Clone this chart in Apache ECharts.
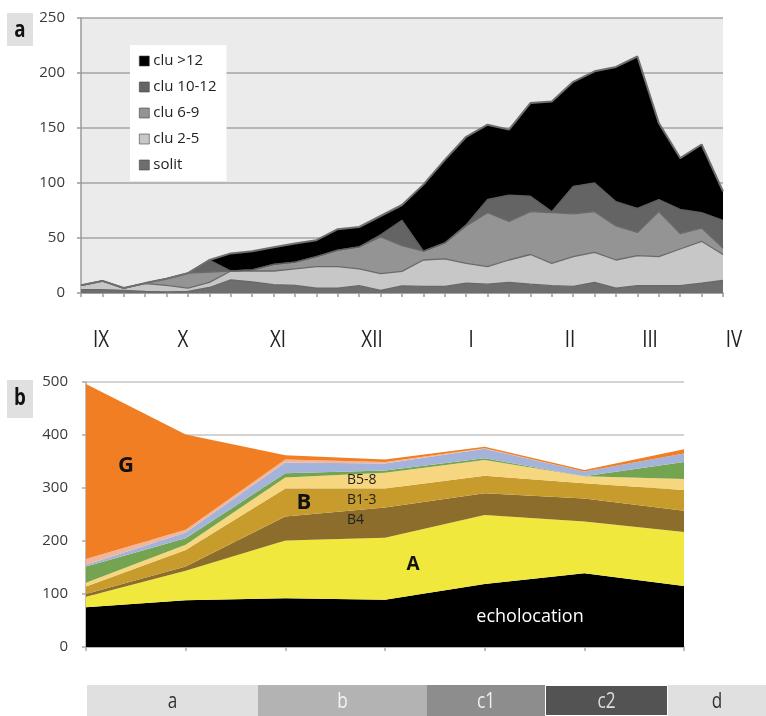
<!DOCTYPE html>
<html>
<head>
<meta charset="utf-8">
<script src="https://cdn.jsdelivr.net/npm/echarts@6/dist/echarts.min.js"></script>
<style>
  html, body { margin: 0; padding: 0; background: #fff; }
  #chart { width: 766px; height: 716px; }
</style>
</head>
<body>
<div id="chart"></div>
<script>
// ---- panel a: weekly counts by cluster size ----
const weeks = ['1','2','3','4','5','6','7','8','9','10','11','12','13','14','15','16',
               '17','18','19','20','21','22','23','24','25','26','27','28','29','30','31'];
const solit   = [3, 3, 2.4, 1.5, 1, 1.5, 5, 12, 10, 7.6, 7, 4.5, 4.5, 6.7, 2.4, 6.5,
                 6, 6, 9, 8, 9.7, 8, 6.7, 6, 9.7, 4.5, 6.7, 6.7, 6.7, 9, 11.5];
const clu2_5  = [4, 8, 2.1, 7, 6, 3, 4.7, 8, 10, 12.4, 15, 19.5, 19.5, 15.3, 15.2, 13.2,
                 24, 25, 18, 16, 20.3, 27, 20.3, 27, 27.3, 25.5, 27.3, 26.3, 33.3, 38, 23.5];
const clu6_9  = [0, 0, 0, 0.5, 6, 13.5, 9.3, 0, 1, 6, 6, 9, 15, 20, 33.4, 23.3,
                 8, 14.5, 34, 49, 35, 39, 46, 39, 37, 31, 21, 41, 14, 12, 6];
const clu10_12 = [0, 0, 0, 0, 0, 0, 11, 0, 0, 0, 0, 0, 0, 0, 2, 23,
                  0, 0, 1, 12, 24, 14, 1, 25, 26, 22, 22, 11, 22, 14, 25];
const clu12p  = [0, 0, 0, 0, 0, 0, 0, 16, 17, 15.5, 17, 15, 19, 18, 17, 14,
                 60.5, 75.5, 80, 68, 59.5, 84.7, 100, 95, 101.5, 122.5, 138, 69.5, 46.7, 62, 26.4];
const monthLabels = ['IX', 'X', 'XI', 'XII', 'I', 'II', 'III', 'IV'];

// ---- panel b: call types per sample ----
const samples = ['1', '2', '3', '4', '5', '6', '7'];
const echolocation = [75, 88, 92, 89, 119, 139, 115];
const typeA   = [20, 56, 109, 117, 130, 98, 102];
const typeB4  = [5, 8, 45, 57, 41, 43, 40];
const typeB13 = [14, 31, 53, 36, 33, 29, 39];
const typeB58 = [7, 10, 21, 30, 30, 13, 21];
const typeC   = [31, 12, 8, 4, 3, 0, 32];
const typeD   = [3, 11, 20, 13, 18, 9, 16];
const typeEF  = [11, 5, 6, 3, 1, 0, 0];
const typeG   = [330, 180, 8, 5, 3, 3, 8];

// ---- phase strip ----
const phases = ['a', 'b', 'c1', 'c2', 'd'];
const phaseLengths = [171, 169, 118, 123, 98];

const narrowFont = '"Liberation Sans Narrow", "DejaVu Sans Condensed", "Roboto Condensed", sans-serif';
const baseFont = '"Open Sans", "Noto Sans", sans-serif';

const chart = echarts.init(document.getElementById('chart'), null, { renderer: 'canvas' });

function topArea(name, data, color, lineColor, lineWidth) {
  return {
    name, type: 'line', stack: 'top', data,
    xAxisIndex: 0, yAxisIndex: 0,
    symbol: 'none', silent: true,
    lineStyle: { color: lineColor, width: lineWidth },
    itemStyle: { color },
    areaStyle: { color, opacity: 1 },
    emphasis: { disabled: true }
  };
}
function bottomArea(name, data, color) {
  return {
    name, type: 'line', stack: 'bottom', data,
    xAxisIndex: 1, yAxisIndex: 1,
    symbol: 'none', silent: true,
    lineStyle: { width: 0, opacity: 0 },
    itemStyle: { color },
    areaStyle: { color, opacity: 1 },
    emphasis: { disabled: true }
  };
}

const phaseColors = ['#e0e0e0', '#b3b3b3', '#8d8d8d', '#535353', '#e0e0e0'];
const phaseTextColors = ['#333', '#f4f4f4', '#f0f0f0', '#dcdcdc', '#333'];
const phaseSeries = phases.map((p, i) => ({
  name: p, type: 'bar', stack: 'phase',
  xAxisIndex: 2, yAxisIndex: 2,
  data: [phaseLengths[i]],
  barWidth: 31, silent: true,
  itemStyle: {
    color: phaseColors[i],
    borderColor: p === 'c2' ? '#fff' : phaseColors[i],
    borderWidth: p === 'c2' ? 1 : 0
  },
  label: { show: false }
}));

// narrow lettering: regular face squeezed horizontally
function narrowText(text, x, y, size, color, weight) {
  return {
    type: 'text', x, y, scaleX: 0.78, z: 100,
    style: {
      text, font: (weight || 'normal') + ' ' + size + 'px ' + baseFont,
      fill: color, align: 'center', verticalAlign: 'middle'
    }
  };
}
function plainText(text, x, y, font, color, align) {
  return {
    type: 'text', x, y, z: 100,
    style: { text, font, fill: color, align: align || 'center', verticalAlign: 'middle' }
  };
}

const monthX = [101, 183, 278, 372, 471, 570, 650, 734];
const phaseStarts = phaseLengths.map((v, i) => phaseLengths.slice(0, i).reduce((s, w) => s + w, 0));

const graphics = [
  { type: 'rect', z: 90, shape: { x: 7, y: 13, width: 26, height: 33 }, style: { fill: '#e0e0e0' } },
  narrowText('a', 20, 30, 24, '#111', 'bold'),
  { type: 'rect', z: 90, shape: { x: 7, y: 380, width: 26, height: 38 }, style: { fill: '#e0e0e0' } },
  narrowText('b', 20, 398, 24, '#111', 'bold'),
  plainText('G', 126, 466, 'bold 22px ' + baseFont, '#111'),
  plainText('B', 304, 503, 'bold 22px ' + baseFont, '#111'),
  plainText('B5-8', 347, 480, '14px ' + baseFont, '#222', 'left'),
  plainText('B1-3', 347, 500, '14px ' + baseFont, '#222', 'left'),
  plainText('B4', 347, 520, '14px ' + baseFont, '#222', 'left'),
  plainText('A', 413, 565, 'bold 19px ' + baseFont, '#111'),
  plainText('echolocation', 530, 617, '18px ' + baseFont, '#fff')
].concat(monthLabels.map((m, i) => narrowText(m, monthX[i], 340, 24, '#222')));

const axisGrey = '#9a9a9a';
const phaseTotal = phaseLengths.reduce((s, v) => s + v, 0);

chart.setOption({
  animation: false,
  grid: [
    { left: 81, top: 18, width: 642, height: 275, show: true, backgroundColor: '#ebebeb', borderWidth: 0 },
    { left: 86, top: 382, width: 598, height: 265 },
    { left: 87, top: 685, width: 679, height: 31 }
  ],
  legend: {
    data: ['clu >12', 'clu 10-12', 'clu 6-9', 'clu 2-5', 'solit'],
    orient: 'vertical', left: 130, top: 45,
    backgroundColor: '#ffffff',
    padding: [8, 10, 8, 9],
    icon: 'rect', itemWidth: 10, itemHeight: 10, itemGap: 10,
    itemStyle: { borderColor: '#444', borderWidth: 0.6 },
    textStyle: { fontFamily: baseFont, fontSize: 15, color: '#222', lineHeight: 16, padding: [0, 0, 0, -1] },
    selectedMode: false
  },
  xAxis: [
    {
      gridIndex: 0, type: 'category', data: weeks, boundaryGap: false,
      axisLine: { lineStyle: { color: axisGrey, width: 1.5 } },
      axisTick: { show: true, length: 4, interval: 0, lineStyle: { color: axisGrey, width: 1.5 } },
      axisLabel: { show: false }, splitLine: { show: false }
    },
    {
      gridIndex: 1, type: 'category', data: samples, boundaryGap: false,
      axisLine: { lineStyle: { color: '#aaa', width: 1.5 } },
      axisTick: { show: true, length: 4, interval: 0, lineStyle: { color: '#aaa', width: 1.5 } },
      axisLabel: { show: false }, splitLine: { show: false }
    },
    {
      gridIndex: 2, type: 'value', min: 0, max: phaseTotal, show: false
    }
  ],
  yAxis: [
    {
      gridIndex: 0, type: 'value', min: 0, max: 250, interval: 50,
      axisLine: { show: true, lineStyle: { color: axisGrey, width: 1.5 } },
      axisTick: { show: true, length: 4, lineStyle: { color: axisGrey, width: 1.5 } },
      axisLabel: { fontFamily: baseFont, fontSize: 15, color: '#3a3a3a', margin: 16 },
      splitLine: { lineStyle: { color: '#a5a5a5', width: 1.5 } }
    },
    {
      gridIndex: 1, type: 'value', min: 0, max: 500, interval: 100,
      axisLine: { show: true, lineStyle: { color: '#aaa', width: 1.5 } },
      axisTick: { show: true, length: 4, lineStyle: { color: '#aaa', width: 1.5 } },
      axisLabel: { fontFamily: baseFont, fontSize: 15, color: '#3a3a3a', margin: 18 },
      splitLine: { lineStyle: { color: '#c4c4c4', width: 1.5 } }
    },
    {
      gridIndex: 2, type: 'category', data: ['phase'], show: false
    }
  ],
  series: [
    topArea('solit', solit, '#6e6e6e', '#686868', 1.3),
    topArea('clu 2-5', clu2_5, '#c7c7c7', '#6a6a6a', 1.3),
    topArea('clu 6-9', clu6_9, '#949494', '#6a6a6a', 1.3),
    topArea('clu 10-12', clu10_12, '#646464', '#5e5e5e', 1.3),
    topArea('clu >12', clu12p, '#000000', '#6f6f6f', 2),

    bottomArea('echolocation', echolocation, '#000000'),
    bottomArea('A', typeA, '#f1e83e'),
    bottomArea('B4', typeB4, '#8c6d2c'),
    bottomArea('B1-3', typeB13, '#c89b2d'),
    bottomArea('B5-8', typeB58, '#f6d67e'),
    bottomArea('C', typeC, '#75a450'),
    bottomArea('D', typeD, '#a3b3da'),
    bottomArea('E/F', typeEF, '#f2b49a'),
    bottomArea('G', typeG, '#f17e22')
  ].concat(phaseSeries),
  graphic: graphics
});

// phase names, centred on each strip segment via the strip's own scale
const phaseLabels = phases.map((p, i) => {
  const mid = chart.convertToPixel({ xAxisIndex: 2 }, phaseStarts[i] + phaseLengths[i] / 2);
  return narrowText(p, mid, 702, 22, phaseTextColors[i]);
});
chart.setOption({ graphic: graphics.concat(phaseLabels) });
</script>
</body>
</html>
